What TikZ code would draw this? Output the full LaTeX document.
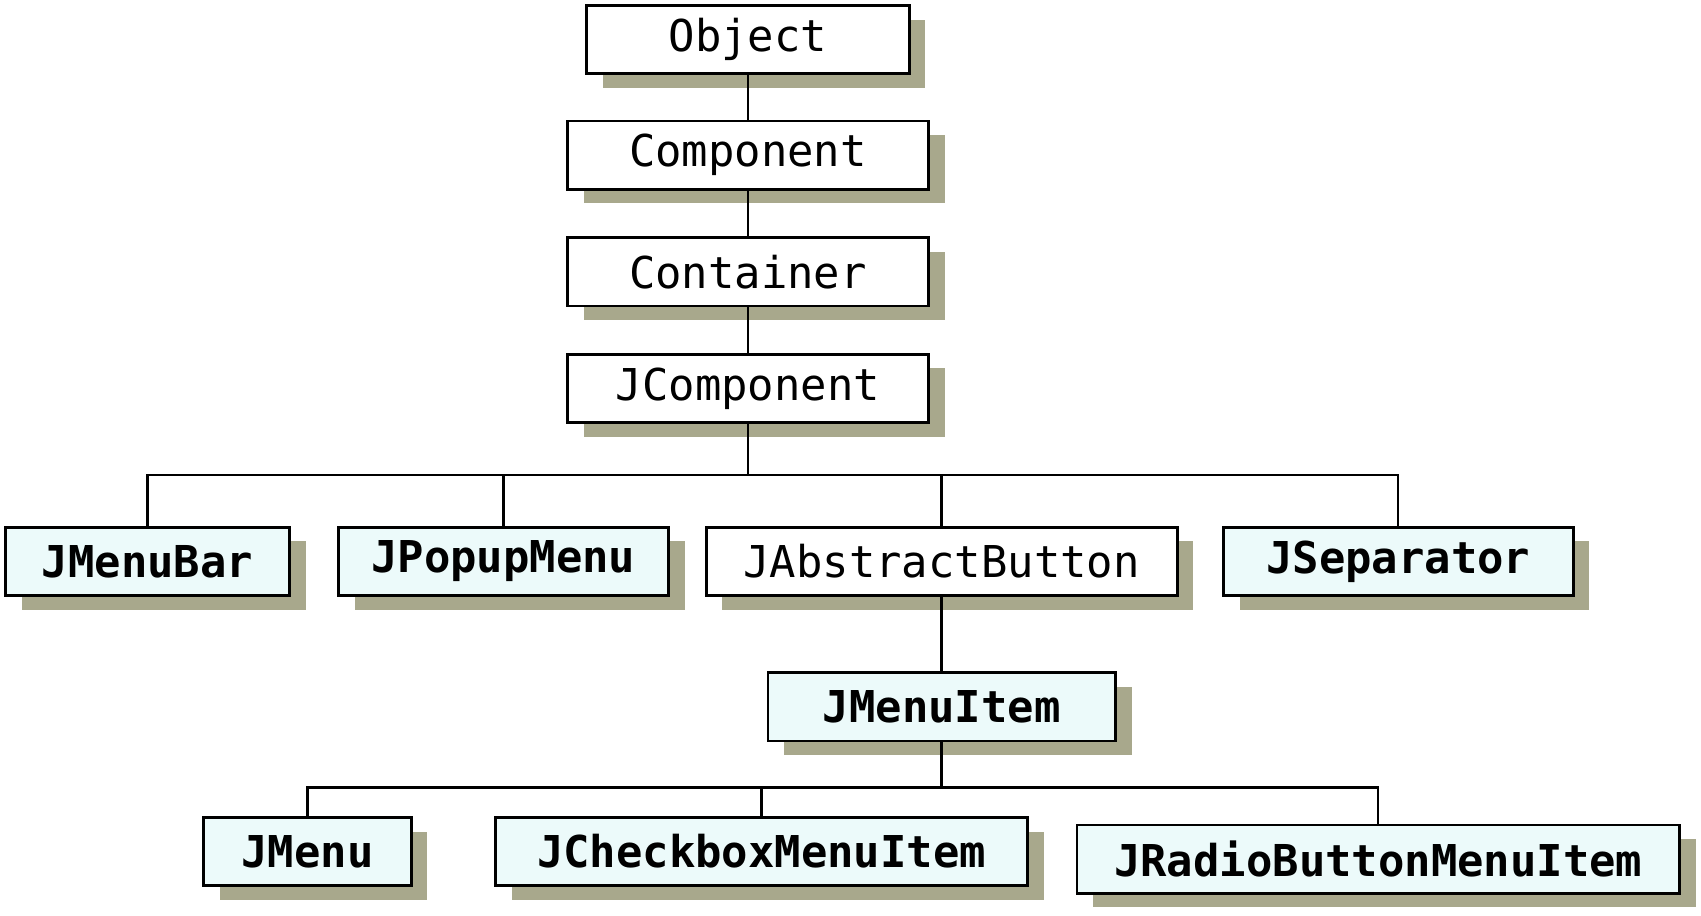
\documentclass[tikz,border=0pt]{standalone}
\usepackage{fontspec}
\setmonofont{DejaVu Sans Mono}
\usetikzlibrary{shadows}
\definecolor{shade}{HTML}{A8A88C}
\definecolor{pale}{HTML}{ECFAFA}
\tikzset{
  cls/.style={draw,line width=0.75pt,fill=white,minimum height=0.63cm,inner sep=0pt,
    font=\ttfamily\fontsize{11.5}{12}\selectfont,
    drop shadow={shadow xshift=0.15cm,shadow yshift=-0.13cm,fill=shade,opacity=1}},
  clsb/.style={cls,fill=pale,font=\ttfamily\bfseries\fontsize{11.5}{12}\selectfont},
  link/.style={line width=0.6pt}
}
\begin{document}
\begin{tikzpicture}[x=0.01cm,y=0.01cm]
	\useasboundingbox (0,0) rectangle (1568,-844);
	\node[cls,minimum width=2.97cm] (object) at (689.5,-36.5) {Object};
	\node[cls,minimum width=3.33cm] (component) at (689.5,-143) {Component};
	\node[cls,minimum width=3.33cm] (container) at (689.5,-250.5) {Container};
	\node[cls,minimum width=3.33cm] (jcomponent) at (689.5,-358) {JComponent};
	
	\node[clsb,minimum width=2.62cm] (jmenubar) at (136,-517.5) {JMenuBar};
	\node[clsb,minimum width=3.04cm] (jpopupmenu) at (464,-517.5) {JPopupMenu};
	\node[cls,minimum width=4.34cm] (jabstractbutton) at (868,-517.5) {JAbstractButton};
	\node[clsb,minimum width=3.22cm] (jseparator) at (1289,-517.5) {JSeparator};
	
	\node[clsb,minimum width=3.20cm] (jmenuitem) at (868,-651.5) {JMenuItem};
	
	\node[clsb,minimum width=1.91cm] (jmenu) at (283.5,-785) {JMenu};
	\node[clsb,minimum width=4.90cm] (jcheckbox) at (702,-785) {JCheckboxMenuItem};
	\node[clsb,minimum width=5.55cm] (jradio) at (1270.5,-792) {JRadioButtonMenuItem};
	
	\coordinate (bus1) at (689.5,-438);
	\coordinate (bus2) at (868,-726);
	
	\draw[link] (object) -- (component);
	\draw[link] (component) -- (container);
	\draw[link] (container) -- (jcomponent);
	\draw[link] (jcomponent) -- (bus1);
	\draw[link] (bus1) -| (jmenubar.north);
	\draw[link] (bus1) -| (jpopupmenu.north);
	\draw[link] (bus1) -| (jabstractbutton.north);
	\draw[link] (bus1) -| (jseparator.north);
	
	\draw[link] (jabstractbutton) -- (jmenuitem);
	\draw[link] (jmenuitem) -- (bus2);
	\draw[link] (bus2) -| (jmenu.north);
	\draw[link] (bus2) -| (jcheckbox.north);
	\draw[link] (bus2) -| (jradio.north);
\end{tikzpicture}
\end{document}
